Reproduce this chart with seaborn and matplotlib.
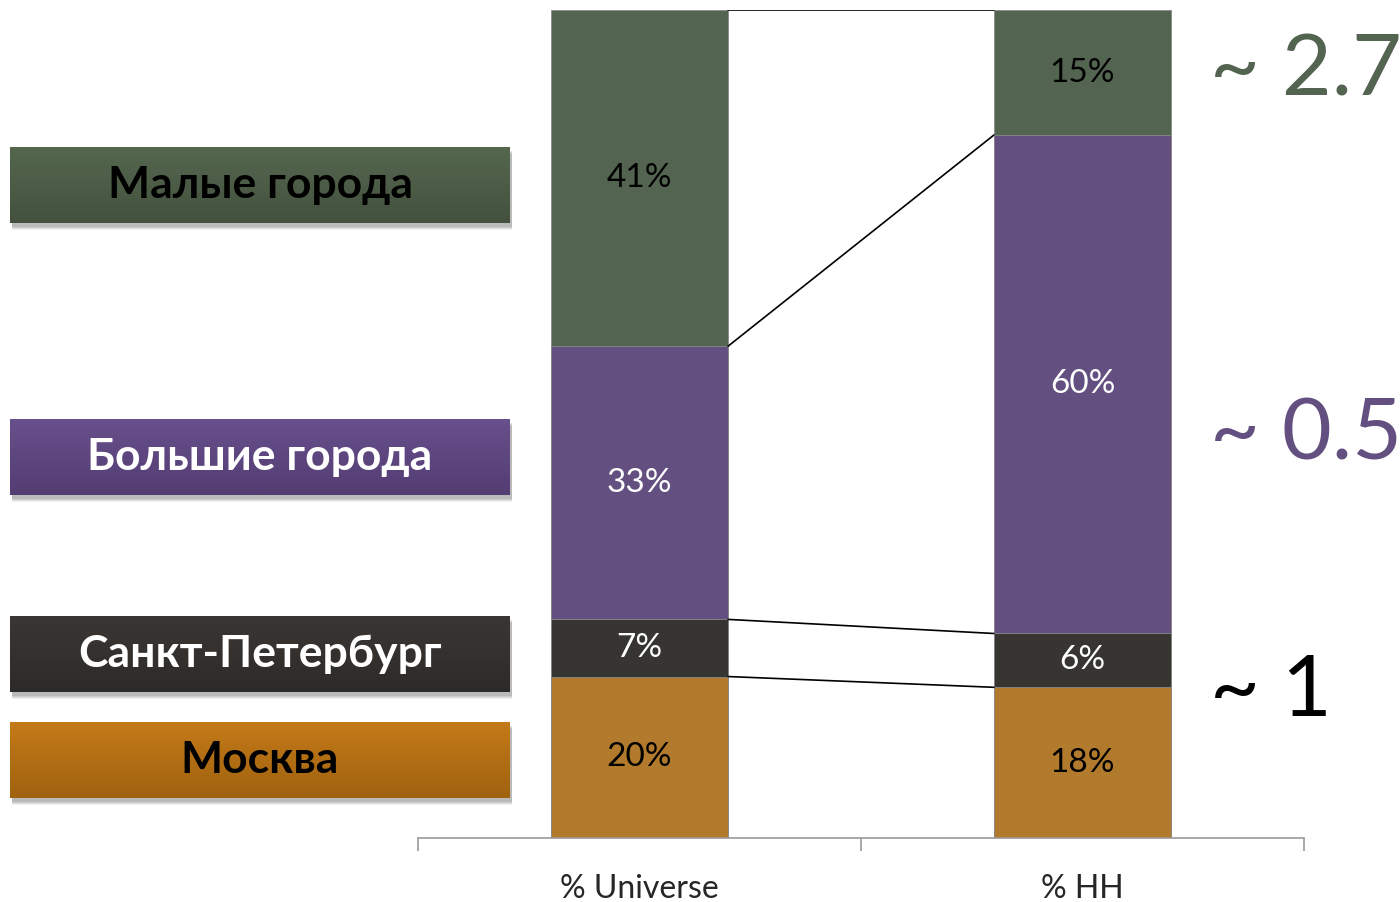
import numpy as np
import pandas as pd
import matplotlib
matplotlib.use("Agg")
import matplotlib.pyplot as plt
import seaborn as sns
from matplotlib.colors import LinearSegmentedColormap
from matplotlib.patches import Rectangle

# data (bottom -> top)
segments = ["Москва", "Санкт-Петербург", "Большие города", "Малые города"]
columns = ["% Universe", "% HH"]
universe = [19.5, 6.9, 33.0, 40.6]
hh = [18.2, 6.5, 60.2, 15.1]
universe_labels = ["20%", "7%", "33%", "41%"]
hh_labels = ["18%", "6%", "60%", "15%"]
ratios = ["~ 1", "~ 1", "~ 0.5", "~ 2.7"]

colors = ["#b27a2c", "#373532", "#634f80", "#536450"]
label_colors = ["black", "white", "white", "black"]
grad_top = ["#c47a18", "#3a3633", "#68508c", "#55674f"]
grad_bot = ["#a0620f", "#2d2b29", "#533d72", "#43513e"]
ratio_colors = ["black", "black", "#634f80", "#536450"]

sns.set_style("white")
plt.rcParams["font.family"] = ["Lato", "DejaVu Sans"]

df = pd.DataFrame({"col": columns})
cum_u = np.cumsum(universe)
cum_h = np.cumsum(hh)

fig = plt.figure(figsize=(14, 9.02), dpi=100)
W, H = 1400, 902
ax = fig.add_axes([418 / W, 1 - 838 / H, (1304 - 418) / W, (838 - 10) / H])
ax.patch.set_alpha(0)

# stacked bars via overlaid cumulative bars, top layer first
for i in reversed(range(len(segments))):
    d = df.copy()
    d["val"] = [cum_u[i], cum_h[i]]
    sns.barplot(data=d, x="col", y="val", color=colors[i], width=0.4,
                saturation=1, edgecolor="#8a8a8a", linewidth=0.6, ax=ax)

# value labels
for i in range(len(segments)):
    for xi, (cum, vals, labs) in enumerate([(cum_u, universe, universe_labels),
                                            (cum_h, hh, hh_labels)]):
        ymid = cum[i] - vals[i] / 2
        ax.text(xi, ymid, labs[i], ha="center", va="center", fontsize=24,
                color=label_colors[i])

# connector lines between bars
xl, xr = 0.2, 0.8
for i in range(len(segments)):
    ax.plot([xl, xr], [cum_u[i], cum_h[i]], color="black", lw=1.2, zorder=5)

ax.set_xlim(-0.5, 1.5)
ax.set_ylim(0, 100)
ax.set_xlabel("")
ax.set_ylabel("")
ax.set_yticks([])
sns.despine(ax=ax, left=True)
ax.spines["bottom"].set_color("#9a9a9a")
ax.spines["bottom"].set_linewidth(1.2)
ax.set_xticks([-0.5, 0.5, 1.5], minor=True)
ax.tick_params(axis="x", which="minor", length=9, width=1.2, color="#9a9a9a",
               direction="out", bottom=True)
ax.tick_params(axis="x", which="major", length=0, pad=26, labelsize=23)

# left legend boxes with gradient and soft shadow
boxes = [(722, 798), (616, 692), (419, 495), (147, 223)]
for i, (top, bot) in enumerate(boxes):
    x0, x1 = 10, 510
    for k, a in enumerate([0.06, 0.07, 0.08, 0.09]):
        off = 7 - k
        shadow = Rectangle(((x0 + 2) / W, 1 - (bot + off) / H), (x1 - x0) / W,
                           (bot - top) / H, transform=fig.transFigure,
                           facecolor="#000000", alpha=a, edgecolor="none",
                           zorder=-10)
        fig.patches.append(shadow)
    bax = fig.add_axes([x0 / W, 1 - bot / H, (x1 - x0) / W, (bot - top) / H])
    bax.set_zorder(5)
    cmap = LinearSegmentedColormap.from_list("g", [grad_top[i], grad_bot[i]])
    bax.imshow(np.linspace(0, 1, 64).reshape(-1, 1), aspect="auto", cmap=cmap,
               extent=[0, 1, 0, 1], origin="upper")
    bax.set_axis_off()
    bax.text(0.5, 0.5, segments[i], ha="center", va="center", fontsize=32,
             fontweight="bold", color=label_colors[i], transform=bax.transAxes)

# ratio annotations on the right
ratio_y = [None, 692, 436, 72]
for i in [1, 2, 3]:
    fig.text(1210 / W, 1 - ratio_y[i] / H, ratios[i], ha="left", va="center",
             fontsize=62, color=ratio_colors[i])

fig.savefig("out.png", dpi=100)
